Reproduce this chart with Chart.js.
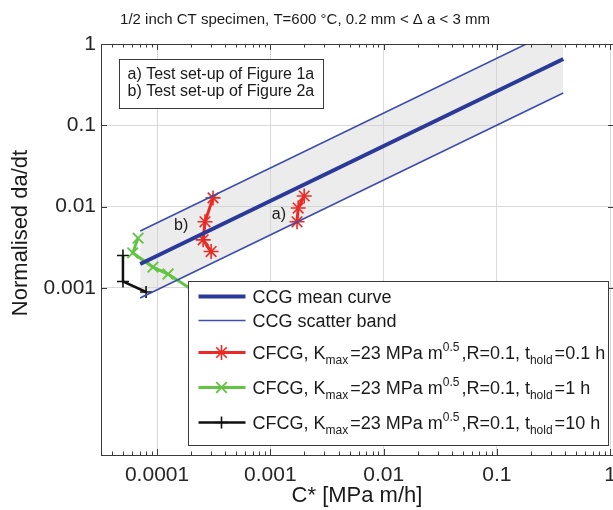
<!DOCTYPE html>
<html lang="en">
<head>
<meta charset="UTF-8">
<title>CCG and CFCG crack growth rates</title>
<script src="https://cdn.jsdelivr.net/npm/chart.js@4"></script>
<style>
  html, body { margin: 0; padding: 0; background: #fff; overflow: hidden; }
  #wrap { width: 640px; height: 510px; }
</style>
</head>
<body>
<div id="wrap"><canvas id="ccgChart" width="640" height="510"></canvas></div>
<script>
// CCG mean curve and scatter band (straight lines in log-log, end points only)
const bandC = [7.1e-5, 0.385];
const meanRate = [0.00197, 0.654];
const upperRate = [0.00501, 1.66];
const lowerRate = [0.00075, 0.249];

// CFCG tests, t_hold = 0.1 h (set-up b and set-up a)
const holdB_C = [3.12e-4, 2.65e-4, 2.55e-4, 3.0e-4];
const holdB_rate = [0.0128, 0.0065, 0.0039, 0.0028];
const holdA_C = [1.99e-3, 1.76e-3, 1.72e-3];
const holdA_rate = [0.0135, 0.0096, 0.0065];

// CFCG, t_hold = 1 h
const hold1_C = [6.8e-5, 6.1e-5, 9.2e-5, 1.25e-4, 2.4e-4];
const hold1_rate = [0.0041, 0.0027, 0.0018, 0.00148, 0.00082];

// CFCG, t_hold = 10 h
const hold10_C = [5.0e-5, 5.0e-5, 8.0e-5];
const hold10_rate = [0.0025, 0.0012, 0.00089];

// axis ticks
const cTicks = [1e-4, 1e-3, 1e-2, 1e-1, 1];
const cTickLabels = ['0.0001', '0.001', '0.01', '0.1', '1'];
const rateTicks = [1e-3, 1e-2, 1e-1, 1];
const rateTickLabels = ['0.001', '0.01', '0.1', '1'];

const holdTimes = ['0.1', '1', '10'];
const titleText = '1/2 inch CT specimen, T=600 \u00b0C, 0.2 mm < \u0394 a < 3 mm';
const setupNotes = ['a) Test set-up of Figure 1a', 'b) Test set-up of Figure 2a'];

const FONT = "'Liberation Sans', Arial, Helvetica, sans-serif";
Chart.defaults.font.family = FONT;

const pts = (xs, ys) => xs.map((x, i) => ({ x: x, y: ys[i] }));

const BLUE = '#2b3a98';
const BLUE_THIN = '#3e4dab';
const RED = '#ec2a24';
const GREEN = '#62c443';
const BLACK = '#111111';

// legend text: [text, 0 normal | -1 subscript | 1 superscript]
const cfcgLabel = t => [['CFCG, K', 0], ['max', -1], ['=23 MPa m', 0], ['0.5', 1],
  [',R=0.1, t', 0], ['hold', -1], ['=' + t + ' h', 0]];

const legendRows = [
  { ds: 1, dy: 15, text: [['CCG mean curve', 0]] },
  { ds: 0, dy: 39, text: [['CCG scatter band', 0]] },
  { ds: 3, dy: 71, text: cfcgLabel(holdTimes[0]) },
  { ds: 5, dy: 106, text: cfcgLabel(holdTimes[1]) },
  { ds: 6, dy: 141, text: cfcgLabel(holdTimes[2]) }
];

function drawRich(ctx, parts, x, y) {
  parts.forEach(([t, mode]) => {
    if (mode === 0) {
      ctx.font = '18px ' + FONT;
      ctx.fillText(t, x, y);
      x += ctx.measureText(t).width;
    } else {
      ctx.font = '12px ' + FONT;
      ctx.fillText(t, x, mode < 0 ? y + 5 : y - 8);
      x += ctx.measureText(t).width + 2;
    }
  });
}

const decor = {
  id: 'decor',
  afterDatasetsDraw(chart) {
    const { ctx, chartArea: a, scales } = chart;
    const xs = scales.x, ys = scales.y;
    ctx.save();
    ctx.strokeStyle = '#3a3a3a';
    ctx.lineWidth = 1;
    ctx.strokeRect(Math.round(a.left) + 0.5, Math.round(a.top) + 0.5,
      Math.round(a.right - a.left), Math.round(a.bottom - a.top));
    ctx.beginPath();
    // major and minor ticks on the C* axis (bottom and top)
    for (let d = -5; d <= 0; d++) {
      for (let k = 1; k <= 9; k++) {
        const v = k * Math.pow(10, d);
        if (v < xs.min || v > xs.max) continue;
        const px = Math.round(xs.getPixelForValue(v)) + 0.5;
        const len = k === 1 ? 6 : 3.5;
        ctx.moveTo(px, a.bottom); ctx.lineTo(px, a.bottom - len);
        ctx.moveTo(px, a.top); ctx.lineTo(px, a.top + len);
      }
    }
    rateTicks.forEach(v => {
      const py = Math.round(ys.getPixelForValue(v)) + 0.5;
      ctx.moveTo(a.left, py); ctx.lineTo(a.left + 6, py);
      ctx.moveTo(a.right, py); ctx.lineTo(a.right - 6, py);
    });
    ctx.stroke();
    ctx.restore();
  },
  afterDraw(chart) {
    const { ctx, chartArea: a, scales } = chart;
    const xs = scales.x, ys = scales.y;
    ctx.save();
    ctx.fillStyle = '#1a1a1a';

    // set-up markers next to the red curves
    ctx.font = '16px ' + FONT;
    ctx.textAlign = 'center';
    ctx.textBaseline = 'middle';
    ctx.fillText('a)', xs.getPixelForValue(1.19e-3), ys.getPixelForValue(0.0079));
    ctx.fillText('b)', xs.getPixelForValue(1.63e-4), ys.getPixelForValue(0.0059));

    // set-up note box
    const nx = Math.round(a.left) + 18.5, ny = Math.round(a.top) + 15.5;
    ctx.fillStyle = '#fff';
    ctx.fillRect(nx, ny, 204, 49);
    ctx.strokeStyle = '#3a3a3a';
    ctx.lineWidth = 1;
    ctx.strokeRect(nx, ny, 204, 49);
    ctx.fillStyle = '#1a1a1a';
    ctx.textAlign = 'left';
    ctx.textBaseline = 'alphabetic';
    ctx.font = '16px ' + FONT;
    ctx.fillText(setupNotes[0], nx + 8, ny + 19);
    ctx.fillText(setupNotes[1], nx + 8, ny + 36);

    // legend box
    const lx = 188.5, ly = 281.5, lw = 420, lh = 164;
    ctx.fillStyle = '#fff';
    ctx.fillRect(lx, ly, lw, lh);
    ctx.strokeRect(lx, ly, lw, lh);
    legendRows.forEach(row => {
      const ds = chart.data.datasets[row.ds];
      const cy = ly + row.dy;
      ctx.strokeStyle = ds.borderColor;
      ctx.lineWidth = ds.borderWidth;
      ctx.beginPath();
      ctx.moveTo(lx + 10, cy);
      ctx.lineTo(lx + 57, cy);
      ctx.stroke();
      if (ds.pointStyle) {
        ctx.lineWidth = ds.pointBorderWidth;
        Chart.helpers.drawPoint(ctx, {
          pointStyle: ds.pointStyle, radius: ds.pointRadius, rotation: 0,
          borderWidth: ds.pointBorderWidth
        }, lx + 33, cy);
      }
      ctx.fillStyle = '#1a1a1a';
      drawRich(ctx, row.text, lx + 64, cy + 6.5);
    });

    // titles
    ctx.fillStyle = '#1a1a1a';
    ctx.textAlign = 'center';
    ctx.textBaseline = 'middle';
    ctx.font = '15px ' + FONT;
    ctx.fillText(titleText, 305, 20);
    ctx.font = '22px ' + FONT;
    ctx.fillText('C* [MPa m/h]', 357, 496);
    ctx.translate(21, 233);
    ctx.rotate(-Math.PI / 2);
    ctx.fillText('Normalised da/dt', 0, 0);
    ctx.restore();
  }
};

const lineSet = (label, data, color, width, extra) => Object.assign({
  label: label, data: data, showLine: true, borderColor: color, backgroundColor: color,
  borderWidth: width, pointRadius: 0, pointHoverRadius: 0, fill: false
}, extra || {});

new Chart(document.getElementById('ccgChart'), {
  type: 'scatter',
  data: {
    datasets: [
      lineSet('CCG scatter band', pts(bandC, upperRate), BLUE_THIN, 1.6,
        { fill: { target: 2 }, backgroundColor: 'rgba(210,210,210,0.42)' }),
      lineSet('CCG mean curve', pts(bandC, meanRate), BLUE, 4),
      lineSet('CCG scatter band', pts(bandC, lowerRate), BLUE_THIN, 1.6),
      lineSet('CFCG 0.1 h', pts(holdB_C, holdB_rate), RED, 3,
        { pointStyle: 'star', pointRadius: 7.5, pointBorderWidth: 1.6, pointBorderColor: RED }),
      lineSet('CFCG 0.1 h', pts(holdA_C, holdA_rate), RED, 3,
        { pointStyle: 'star', pointRadius: 7.5, pointBorderWidth: 1.6, pointBorderColor: RED }),
      lineSet('CFCG 1 h', pts(hold1_C, hold1_rate), GREEN, 3,
        { pointStyle: 'crossRot', pointRadius: 7.5, pointBorderWidth: 1.8, pointBorderColor: GREEN }),
      lineSet('CFCG 10 h', pts(hold10_C, hold10_rate), BLACK, 2.5,
        { pointStyle: 'cross', pointRadius: 6, pointBorderWidth: 1.6, pointBorderColor: BLACK })
    ]
  },
  options: {
    responsive: false,
    animation: false,
    events: [],
    layout: { padding: { top: 44, right: 26, bottom: 0, left: 0 } },
    plugins: {
      legend: { display: false },
      tooltip: { enabled: false },
      title: { display: false },
      filler: { drawTime: 'beforeDatasetsDraw' }
    },
    scales: {
      x: {
        type: 'logarithmic',
        min: 3.2e-5,
        max: 1.08,
        bounds: 'data',
        afterBuildTicks: s => { s.ticks = cTicks.map(v => ({ value: v })); },
        afterFit: s => { s.height = 55; },
        ticks: {
          autoSkip: false, maxRotation: 0, padding: 8, color: '#262626',
          font: { size: 21 },
          callback: (v, i) => cTickLabels[i]
        },
        grid: { color: '#d9d9d9', lineWidth: 1, drawTicks: false },
        border: { display: false }
      },
      y: {
        type: 'logarithmic',
        min: 8.8e-6,
        max: 1,
        bounds: 'data',
        afterBuildTicks: s => { s.ticks = rateTicks.map(v => ({ value: v })); },
        afterFit: s => { s.width = 101; },
        ticks: {
          autoSkip: false, padding: 5, color: '#262626',
          font: { size: 21 },
          callback: (v, i) => rateTickLabels[i]
        },
        grid: { color: '#d9d9d9', lineWidth: 1, drawTicks: false },
        border: { display: false }
      }
    }
  },
  plugins: [decor]
});
</script>
</body>
</html>
